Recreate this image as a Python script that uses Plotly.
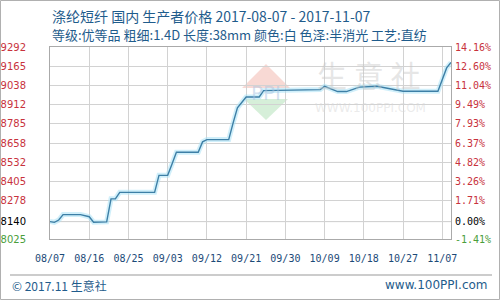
import plotly.graph_objects as go

# ---- data ----
dates = ["2017-08-07", "2017-08-08", "2017-08-09", "2017-08-10", "2017-08-14", "2017-08-16",
         "2017-08-17", "2017-08-20", "2017-08-21", "2017-08-22", "2017-08-23", "2017-08-31",
         "2017-09-01", "2017-09-03", "2017-09-04", "2017-09-05", "2017-09-10", "2017-09-11",
         "2017-09-12", "2017-09-17", "2017-09-18", "2017-09-19", "2017-09-21", "2017-09-24",
         "2017-09-25", "2017-10-08", "2017-10-09", "2017-10-12", "2017-10-14", "2017-10-17",
         "2017-10-21", "2017-10-27", "2017-11-04", "2017-11-06", "2017-11-07"]
prices = [8140, 8135, 8150, 8186, 8186, 8172, 8136, 8138, 8290, 8290, 8333, 8333,
          8445, 8445, 8520, 8597, 8597, 8666, 8681, 8681, 8790, 8890, 8962, 8962,
          9004, 9011, 9033, 8998, 8998, 9027, 9033, 9000, 9000, 9154, 9190]

x_tick_dates = ["2017-08-07", "2017-08-16", "2017-08-25", "2017-09-03", "2017-09-12", "2017-09-21",
                "2017-09-30", "2017-10-09", "2017-10-18", "2017-10-27", "2017-11-05"]
x_tick_labels = ["08/07", "08/16", "08/25", "09/03", "09/12", "09/21",
                 "09/30", "10/09", "10/18", "10/27", "11/07"]

y_ticks = [8025, 8140, 8278, 8405, 8532, 8658, 8785, 8912, 9038, 9165, 9292]
y_tick_labels = ["8025", "8140", "8278", "8405", "8532", "8658", "8785", "8912", "9038", "9165", "9292"]
pct_labels = ["-1.41%", "0.00%", "1.71%", "3.26%", "4.82%", "6.37%", "7.93%", "9.49%", "11.04%", "12.60%", "14.16%"]
base_price = 8140

title1 = "涤纶短纤 国内 生产者价格 2017-08-07 - 2017-11-07"
title2 = "等级:优等品 粗细:1.4D 长度:38mm 颜色:白 色泽:半消光 工艺:直纺"
footer_left = "© 2017.11 生意社"
footer_right = "www.100PPI.com"

# ---- layout geometry ----
W, H = 500, 300
L, R, T, B = 50, 451, 47, 239


def px(x):
    return (x - L) / (R - L)


def py(y):
    return (B - y) / (B - T)


RED = "#c8323c"
GREEN = "#4a9e3a"
BLUE = "#1f5c8c"


def colored(lbl, v):
    if v == base_price:
        c = "#000000"
    elif v < base_price:
        c = GREEN
    else:
        c = RED
    return f"<span style='color:{c}'>{lbl}</span>"


left_text = [colored(l, v) for l, v in zip(y_tick_labels, y_ticks)]
right_text = [colored(l, v) for l, v in zip(pct_labels, y_ticks)]

fig = go.Figure()
# glow
fig.add_trace(go.Scatter(x=dates, y=prices, mode="lines",
                         line=dict(color="rgba(170,225,245,0.55)", width=5),
                         hoverinfo="skip", showlegend=False))
fig.add_trace(go.Scatter(x=dates, y=prices, mode="lines",
                         line=dict(color="#3d7fa6", width=1.4),
                         showlegend=False))
fig.add_trace(go.Scatter(x=dates, y=prices, mode="lines", yaxis="y2",
                         line=dict(width=0, color="rgba(0,0,0,0)"),
                         hoverinfo="skip", showlegend=False))

grid = dict(showgrid=True, gridcolor="#d2d2d2", gridwidth=1)

fig.update_layout(
    width=W, height=H,
    margin=dict(l=L, r=W - R, t=T, b=H - B, autoexpand=False),
    paper_bgcolor="white", plot_bgcolor="white",
    xaxis=dict(type="date", range=["2017-08-07", "2017-11-07"],
               tickvals=x_tick_dates, ticktext=x_tick_labels,
               tickfont=dict(family="DejaVu Sans Mono", size=10, color="#1c4a78"),
               ticks="", ticklabelstandoff=10, automargin=False,
               showline=True, linecolor="#aaaaaa", mirror=True, zeroline=False, **grid),
    yaxis=dict(range=[8025, 9292], tickvals=y_ticks, ticktext=left_text,
               tickfont=dict(family="DejaVu Sans", size=10),
               ticks="", ticklabelstandoff=21, automargin=False,
               showline=True, linecolor="#aaaaaa", mirror=True, zeroline=False, **grid),
    yaxis2=dict(range=[8025, 9292], overlaying="y", side="right",
                tickvals=y_ticks, ticktext=right_text,
                tickfont=dict(family="DejaVu Sans Mono", size=10),
                ticks="", ticklabelstandoff=3, showgrid=False, zeroline=False,
                showline=False, automargin=False),
)

shapes = []
# base line at 8140
shapes.append(dict(type="line", xref="paper", yref="y", x0=0, x1=1, y0=base_price, y1=base_price,
                   line=dict(color="#9a9a9a", width=1), layer="below"))
# watermark logo triangles
shapes.append(dict(type="path", xref="paper", yref="paper",
                   path=f"M {px(242)},{py(88)} L {px(266)},{py(64)} L {px(290)},{py(88)} Z",
                   fillcolor="rgba(240,170,160,0.45)", line=dict(width=0), layer="below"))
shapes.append(dict(type="path", xref="paper", yref="paper",
                   path=f"M {px(244)},{py(99)} L {px(266)},{py(120)} L {px(288)},{py(99)} Z",
                   fillcolor="rgba(180,225,185,0.55)", line=dict(width=0), layer="below"))
# footer separator
shapes.append(dict(type="line", xref="paper", yref="paper",
                   x0=px(10), x1=px(492), y0=py(275), y1=py(275),
                   line=dict(color="#999999", width=1)))
# outer border
shapes.append(dict(type="rect", xref="paper", yref="paper",
                   x0=px(0.5), x1=px(499.5), y0=py(0.5), y1=py(299.5),
                   line=dict(color="#b0b0b0", width=1)))
fig.update_layout(shapes=shapes)

ann = []
ann.append(dict(text=title1, xref="paper", yref="paper", x=px(50), y=py(16),
                xanchor="left", yanchor="middle", showarrow=False,
                font=dict(family="Noto Sans CJK SC", size=14, color=BLUE)))
ann.append(dict(text=title2, xref="paper", yref="paper", x=px(50), y=py(34),
                xanchor="left", yanchor="middle", showarrow=False,
                font=dict(family="Noto Sans CJK SC", size=13, color=BLUE)))
ann.append(dict(text=footer_left, xref="paper", yref="paper", x=px(10), y=py(285),
                xanchor="left", yanchor="middle", showarrow=False,
                font=dict(family="Noto Sans CJK SC", size=12, color=BLUE)))
ann.append(dict(text=footer_right, xref="paper", yref="paper", x=px(490), y=py(285),
                xanchor="right", yanchor="middle", showarrow=False,
                font=dict(family="DejaVu Sans", size=12, color=BLUE)))
# watermark
ann.append(dict(text="生 意 社", xref="paper", yref="paper", x=px(368), y=py(74),
                xanchor="center", yanchor="middle", showarrow=False,
                font=dict(family="Noto Sans CJK SC", size=30, color="rgba(200,200,200,0.45)")))
ann.append(dict(text="PPI", xref="paper", yref="paper", x=px(266), y=py(93),
                xanchor="center", yanchor="middle", showarrow=False,
                font=dict(family="DejaVu Sans", size=20, color="rgba(170,195,225,0.5)")))
ann.append(dict(text="WWW.100PPI.COM", xref="paper", yref="paper", x=px(370), y=py(108),
                xanchor="center", yanchor="middle", showarrow=False,
                font=dict(family="DejaVu Sans", size=12, color="rgba(215,215,215,0.5)")))
fig.update_layout(annotations=ann)

fig.write_html("out.html")
